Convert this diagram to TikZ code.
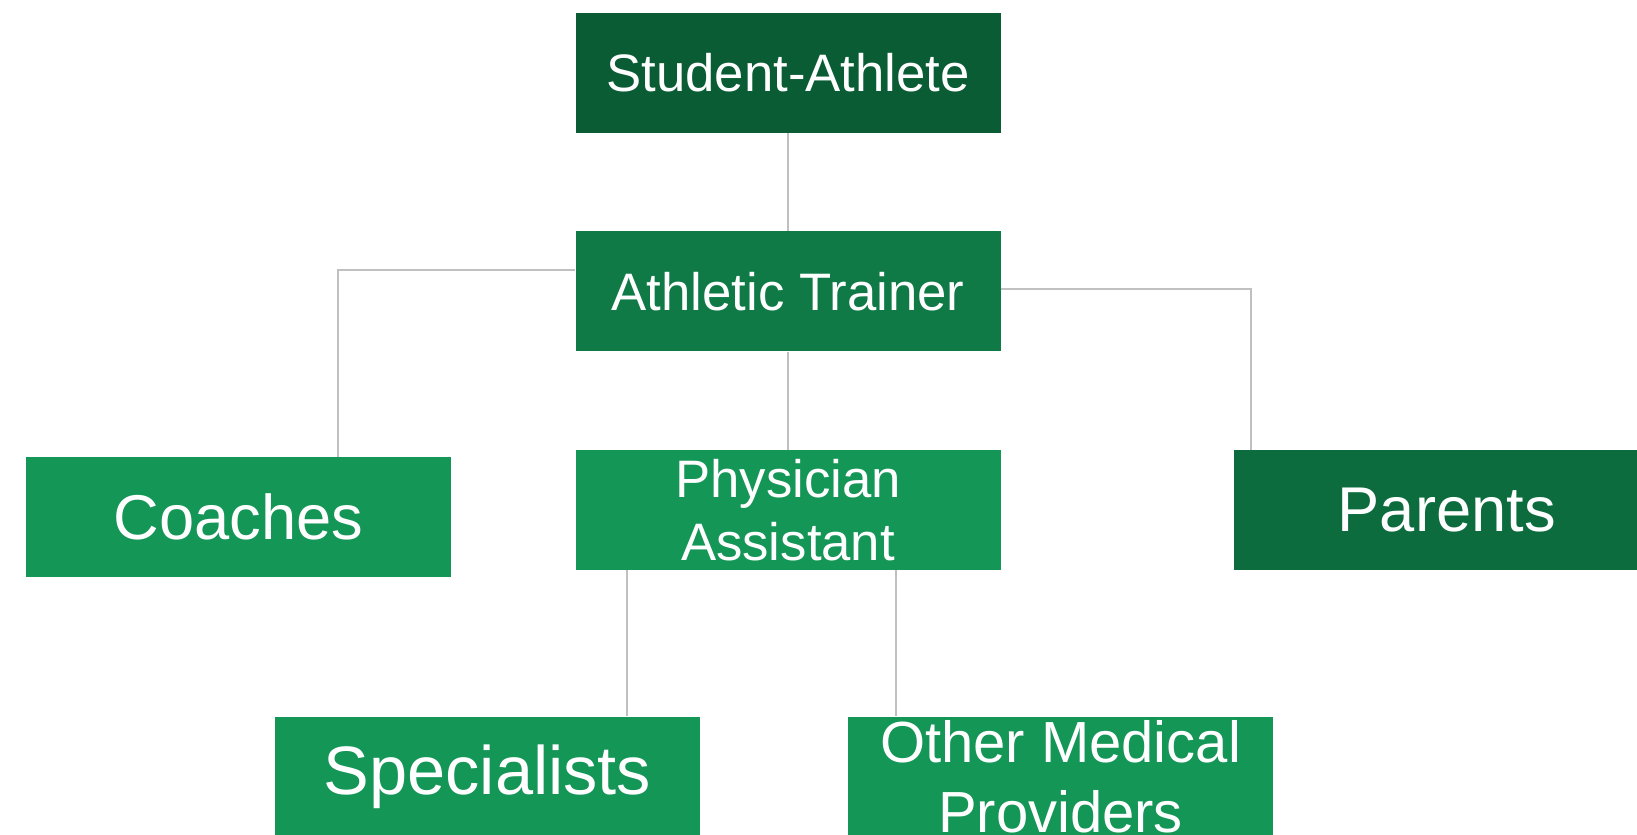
\documentclass[tikz,border=0pt]{standalone}
\usepackage{fontspec}
\setmainfont{Liberation Sans}
\usepackage{xcolor}
\usetikzlibrary{positioning}
\definecolor{darkgreen}{RGB}{10,92,52}
\definecolor{midgreen}{RGB}{15,122,70}
\definecolor{lightgreen}{RGB}{19,150,86}
\definecolor{parentgreen}{RGB}{12,108,62}
\definecolor{linkgray}{RGB}{192,192,192}

\begin{document}
\begin{tikzpicture}[node distance=1.96cm]
\tikzstyle{box}=[fill=lightgreen,text=white,minimum width=8.5cm,minimum height=2.4cm,inner sep=0pt,align=center]
\tikzstyle{link}=[draw=linkgray,line width=0.9pt]
\useasboundingbox (0,0) rectangle (32.74,-16.68);
\clip (0,0) rectangle (32.74,-16.68);
% chain down the middle
\node[box,fill=darkgreen,font=\fontsize{30}{36}\selectfont] (student) at (15.76,-1.45) {Student-Athlete};
\node[box,fill=midgreen,below=of student,font=\fontsize{30}{36}\selectfont] (trainer) {Athletic Trainer};
\node[box,below=of trainer,font=\fontsize{30}{36}\selectfont] (pa) {Physician\\Assistant};
% side branches
\node[box,left=2.48cm of pa,yshift=-0.14cm,font=\fontsize{36}{42}\selectfont] (coaches) {Coaches};
\node[box,fill=parentgreen,right=4.66cm of pa,font=\fontsize{36}{42}\selectfont] (parents) {Parents};
% bottom row
\node[box,below=2.92cm of pa,xshift=-6.01cm,font=\fontsize{39}{46}\selectfont] (specialists) {Specialists};
\node[box,below=2.92cm of pa,xshift=5.45cm,font=\fontsize{33}{40}\selectfont] (others) {Other Medical\\Providers};
\draw[link] (student) -- (trainer);
\draw[link] (trainer) -- (pa);
\draw[link] ([yshift=0.42cm]trainer.west) -| ([xshift=1.99cm]coaches.north);
\draw[link] ([yshift=0.04cm]trainer.east) -| ([xshift=-3.91cm]parents.north);
\draw[link] ([xshift=-3.22cm]pa.south) -- ([xshift=-3.22cm]pa.south |- specialists.north);
\draw[link] ([xshift=2.16cm]pa.south) -- ([xshift=2.16cm]pa.south |- others.north);
\end{tikzpicture}
\end{document}
